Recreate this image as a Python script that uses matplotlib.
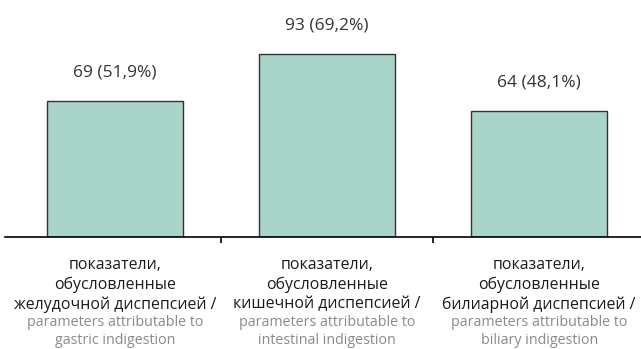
import matplotlib.pyplot as plt
import numpy as np

plt.rcParams['font.family'] = ['Open Sans', 'DejaVu Sans']

# data
counts = [69, 93, 64]
percents = ['51,9%', '69,2%', '48,1%']
ru_lines = [
    ['показатели,', 'обусловленные', 'желудочной диспепсией /'],
    ['показатели,', 'обусловленные', 'кишечной диспепсией /'],
    ['показатели,', 'обусловленные', 'билиарной диспепсией /'],
]
en_lines = [
    ['parameters attributable to', 'gastric indigestion'],
    ['parameters attributable to', 'intestinal indigestion'],
    ['parameters attributable to', 'biliary indigestion'],
]

fig = plt.figure(figsize=(6.41, 3.49), dpi=100)
ax = fig.add_axes([5/641, 112/349, 636/641, 217/349])

x = np.arange(len(counts))
ax.bar(x, counts, width=0.64, color='#a8d4c9', edgecolor='#333333', linewidth=1.0)

# value labels above bars
for xi, c, p in zip(x, counts, percents):
    ax.annotate(f'{c} ({p})', (xi, c), xytext=(0, 20.5), textcoords='offset points',
                ha='center', va='center', fontsize=12.5, color='#333333')

# category labels, russian in black, english in grey
for xi, ru, en in zip(x, ru_lines, en_lines):
    off = -20
    for line in ru:
        ax.annotate(line, (xi, 0), xycoords=('data', 'axes fraction'), xytext=(0, off),
                    textcoords='offset points', ha='center', va='center',
                    fontsize=11.4, color='#1a1a1a', annotation_clip=False)
        off -= 14.3
    off += 1
    for line in en:
        ax.annotate(line, (xi, 0), xycoords=('data', 'axes fraction'), xytext=(0, off),
                    textcoords='offset points', ha='center', va='center',
                    fontsize=10.3, color='#8a8a8a', annotation_clip=False)
        off -= 12.6

ax.set_xlim(-0.52, 2.48)
ax.set_ylim(0, 110)
for s in ['top', 'right', 'left']:
    ax.spines[s].set_visible(False)
ax.spines['bottom'].set_linewidth(1.2)
ax.set_yticks([])
ax.set_xticks([0.5, 1.5])
ax.set_xticklabels([])
ax.tick_params(axis='x', direction='out', length=4, width=1.2)

plt.savefig('out.png', format='png')
